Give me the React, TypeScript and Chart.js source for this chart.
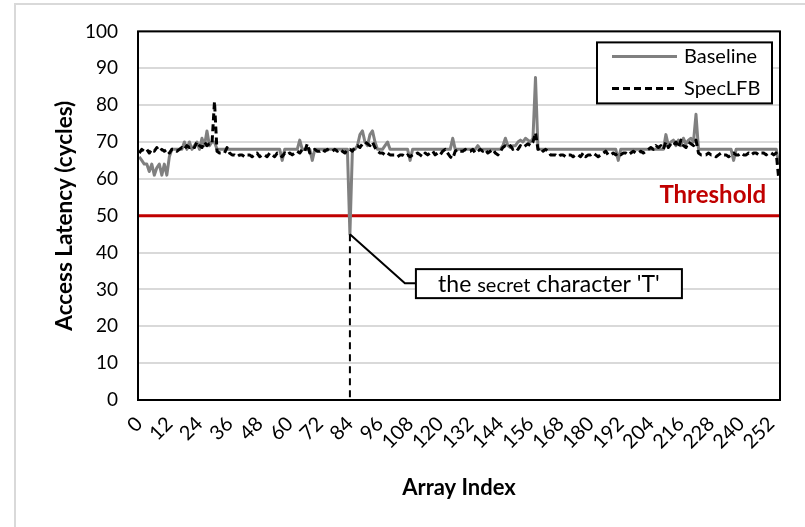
import { useEffect, useRef } from "react";
import { Chart, registerables } from "chart.js";

Chart.register(...registerables);

const categories: string[] = Array.from({ length: 256 }, (_, i) => String(i));
const tickStep = 12;

const baseline: number[] = [
  66, 65, 64, 64, 62, 64, 61, 63, 64, 61, 64, 61, 66, 68, 68, 68,
  68, 68, 70, 68, 70, 68, 69, 70, 68, 71, 69, 73, 69, 70, 70, 68,
  68, 68, 68, 68, 68, 68, 68, 68, 68, 68, 68, 68, 68, 68, 68, 68,
  68, 68, 68, 68, 68, 68, 68, 68, 68, 65, 68, 68, 68, 68, 68, 68,
  70.5, 68, 68, 68, 68, 65, 68, 68, 68, 68, 68, 68, 68, 68, 68, 68,
  68, 68, 68, 68, 45, 68, 68, 69, 72, 73, 70, 69, 72, 73, 70, 68,
  68, 68, 69, 70, 68, 68, 68, 68, 68, 68, 68, 68, 65, 68, 68, 68,
  68, 68, 68, 68, 68, 68, 68, 68, 68, 68, 68, 68, 68, 71, 68, 68,
  68, 68, 68, 68, 68, 68, 68, 69, 68, 68, 68, 68, 68, 68, 68, 68,
  68, 69, 71, 69, 68.5, 69, 69, 70, 70.5, 70, 71, 70.5, 70, 71, 87.5, 68,
  68, 68, 68, 68, 68, 68, 68, 68, 68, 68, 68, 68, 68, 68, 68, 68,
  68, 68, 68, 68, 68, 68, 68, 68, 68, 68, 68, 68, 68, 68, 68, 65,
  68, 68, 68, 68, 68, 68, 68, 68, 68, 68, 68, 68, 68, 68, 68, 68,
  68, 68, 72, 69, 70, 70.5, 69, 70.5, 69, 71, 69.5, 70.5, 71, 70, 77.5, 68,
  68, 68, 68, 68, 68, 68, 68, 68, 68, 68, 68, 68, 68, 65, 68, 68,
  68, 68, 68, 68, 68, 68, 68, 68, 68, 68, 68, 68, 68, 68, 68, 64,
];

const specLFB: number[] = [
  67, 68, 67.5, 68, 67, 68, 67.5, 68.5, 67.5, 68, 67.5, 68, 67, 68, 68, 67.5,
  68, 68.5, 68, 69, 68.5, 69, 68.5, 70, 69, 68.5, 70, 69, 69.5, 69.5, 81, 67.5,
  67, 67, 67, 68.5, 67, 66.5, 66.5, 66, 66.5, 66.5, 66, 66.5, 66.5, 66, 66.5, 67,
  66, 66.5, 66.5, 66, 67, 66.5, 66, 67, 66.5, 66, 67, 66.5, 67, 66.5, 67, 67.5,
  67, 68, 67.5, 69.5, 67, 67.5, 68, 67.5, 67.5, 68, 67.5, 68, 67.5, 67.5, 68, 67.5,
  68, 67.5, 67, 68, 68, 67.5, 68.5, 69, 68.5, 69.5, 70, 69.5, 69, 70, 68.5, 67.5,
  67, 67, 66.5, 67, 66.5, 66.5, 66.5, 66, 66.5, 66.5, 66, 66.5, 66, 66.5, 66.5, 67,
  66.5, 66, 67, 66.5, 67, 67.5, 66.5, 67, 66.5, 67.5, 68, 67, 66, 65.5, 67.5, 68,
  67.5, 67.5, 68, 67.5, 67.5, 68, 67, 67.5, 68, 67.5, 68, 67, 67.5, 68, 67, 66.5,
  67.5, 68.5, 69, 68.5, 69, 68, 68.5, 68, 69, 68.5, 69, 69.5, 69, 70, 72.5, 68,
  68.5, 67.5, 68, 67.5, 66.5, 66.5, 66.5, 66, 66.5, 66.5, 66, 66.5, 66.5, 66, 66.5, 66.5,
  66, 67, 66, 66.5, 66.5, 67, 66.5, 66, 66.5, 67, 67.5, 66.5, 66.5, 67, 66.5, 67,
  66.5, 67, 67, 66.5, 67, 67.5, 67, 67, 67.5, 67, 67.5, 68, 68.5, 68, 69, 68.5,
  69, 68, 70, 68.5, 69.5, 69, 70, 68.5, 70.5, 69, 68.5, 70, 69.5, 69, 70.5, 67,
  66.5, 66.5, 66.5, 67, 66.5, 66.5, 66, 66.5, 67, 66.5, 66.5, 66, 66.5, 67, 66.5, 66.5,
  67, 66.5, 66.5, 67, 66.5, 67, 67, 66.5, 67, 67, 66.5, 67, 67, 66.5, 67, 60,
];

const seriesNames = ["Baseline", "SpecLFB"];
const threshold = 50;
const thresholdLabel = "Threshold";
const secretIndex = 84;
const calloutParts = ["the ", "secret", " character 'T'"];
const yTitle = "Access Latency (cycles)";
const xTitle = "Array Index";
const yMin = 0;
const yMax = 100;
const yStep = 10;

const FONT = 'Lato, "Open Sans", sans-serif';
const GRAY = "#808080";
const RED = "#c00000";

const decor = {
  id: "decor",
  beforeDraw(chart: any) {
    const ctx = chart.ctx;
    ctx.save();
    ctx.fillStyle = "#ffffff";
    ctx.fillRect(0, 0, chart.width, chart.height);
    ctx.strokeStyle = "#d9d9d9";
    ctx.lineWidth = 2;
    ctx.beginPath();
    ctx.moveTo(15, chart.height);
    ctx.lineTo(15, 4);
    ctx.lineTo(chart.width, 4);
    ctx.stroke();
    ctx.restore();
  },
  beforeDatasetsDraw(chart: any) {
    const { ctx, chartArea: a, scales } = chart;
    const ty = scales.y.getPixelForValue(threshold);
    ctx.save();
    ctx.strokeStyle = RED;
    ctx.lineWidth = 3;
    ctx.beginPath();
    ctx.moveTo(a.left, ty);
    ctx.lineTo(a.right, ty);
    ctx.stroke();
    ctx.restore();
  },
  afterDatasetsDraw(chart: any) {
    const { ctx, chartArea: a, scales } = chart;
    const pt = chart.getDatasetMeta(0).data[secretIndex];
    const px = pt.x;
    const py = pt.y;
    ctx.save();
    // drop line
    ctx.strokeStyle = "#000";
    ctx.lineWidth = 2;
    ctx.setLineDash([7, 5]);
    ctx.beginPath();
    ctx.moveTo(px, py);
    ctx.lineTo(px, a.bottom);
    ctx.stroke();
    ctx.setLineDash([]);

    // plot frame
    ctx.lineWidth = 2;
    ctx.strokeStyle = "#000";
    ctx.strokeRect(a.left, a.top, a.right - a.left, a.bottom - a.top);

    // threshold label
    const ty = scales.y.getPixelForValue(threshold);
    ctx.fillStyle = RED;
    ctx.font = `bold 24px ${FONT}`;
    ctx.textAlign = "right";
    ctx.textBaseline = "middle";
    ctx.fillText(thresholdLabel, a.right - 14, ty - 20);

    // callout leader
    ctx.strokeStyle = "#000";
    ctx.lineWidth = 2;
    ctx.beginPath();
    ctx.moveTo(px, py);
    ctx.lineTo(px + 55, py + 49);
    ctx.lineTo(px + 66, py + 49);
    ctx.stroke();
    const bx = px + 66;
    const by = py + 35;
    const bw = 266;
    const bh = 29;
    ctx.fillStyle = "#fff";
    ctx.fillRect(bx, by, bw, bh);
    ctx.strokeRect(bx, by, bw, bh);
    const fonts = [`23px ${FONT}`, `20px ${FONT}`, `23px ${FONT}`];
    let total = 0;
    const widths = calloutParts.map((t, i) => {
      ctx.font = fonts[i];
      const w = ctx.measureText(t).width;
      total += w;
      return w;
    });
    let tx = bx + bw / 2 - total / 2;
    ctx.fillStyle = "#000";
    ctx.textAlign = "left";
    ctx.textBaseline = "alphabetic";
    calloutParts.forEach((t, i) => {
      ctx.font = fonts[i];
      ctx.fillText(t, tx, by + bh / 2 + 8);
      tx += widths[i];
    });

    // legend
    const lx = a.right - 183;
    const ly = a.top + 11;
    const lw = 175;
    const lh = 61;
    ctx.fillStyle = "#fff";
    ctx.fillRect(lx, ly, lw, lh);
    ctx.strokeStyle = "#000";
    ctx.lineWidth = 2;
    ctx.strokeRect(lx, ly, lw, lh);
    const rows = [ly + 14, ly + 46];
    const styles = [
      { color: GRAY, dash: [] as number[] },
      { color: "#000", dash: [7, 4] },
    ];
    rows.forEach((ry, i) => {
      ctx.strokeStyle = styles[i].color;
      ctx.lineWidth = 3;
      ctx.setLineDash(styles[i].dash);
      ctx.beginPath();
      ctx.moveTo(lx + 15, ry);
      ctx.lineTo(lx + 80, ry);
      ctx.stroke();
      ctx.setLineDash([]);
      ctx.fillStyle = "#000";
      ctx.font = `20px ${FONT}`;
      ctx.textAlign = "left";
      ctx.textBaseline = "middle";
      ctx.fillText(seriesNames[i], lx + 87, ry);
    });
    ctx.restore();
  },
};

export default function App() {
  const ref = useRef<HTMLCanvasElement>(null);
  useEffect(() => {
    const chart = new Chart(ref.current as HTMLCanvasElement, {
      type: "line",
      data: {
        labels: categories,
        datasets: [
          {
            label: seriesNames[0],
            data: baseline,
            borderColor: GRAY,
            backgroundColor: GRAY,
            borderWidth: 3,
            pointRadius: 0,
            borderJoinStyle: "round",
            tension: 0,
            order: 2,
          },
          {
            label: seriesNames[1],
            data: specLFB,
            borderColor: "#000",
            backgroundColor: "#000",
            borderWidth: 3,
            borderDash: [7, 4],
            pointRadius: 0,
            borderJoinStyle: "round",
            tension: 0,
            order: 1,
          },
        ],
      },
      options: {
        responsive: false,
        animation: false,
        devicePixelRatio: 1,
        layout: { padding: { left: 0, right: 25, top: 31, bottom: 0 } },
        plugins: { legend: { display: false }, tooltip: { enabled: false } },
        scales: {
          x: {
            type: "category",
            offset: true,
            grid: { display: false, drawTicks: false },
            border: { display: false },
            ticks: {
              autoSkip: false,
              maxRotation: 45,
              minRotation: 45,
              padding: 12,
              color: "#000",
              font: { family: FONT, size: 20 },
              callback: (_v: any, i: number) => (i % tickStep === 0 ? categories[i] : null),
            },
            title: {
              display: true,
              text: xTitle,
              color: "#000",
              font: { family: FONT, size: 22, weight: "bold" },
              padding: { top: 0, bottom: 26 },
            },
            afterFit: (s: any) => {
              s.height = 127;
            },
          },
          y: {
            min: yMin,
            max: yMax,
            grid: { color: "#d9d9d9", lineWidth: 2, drawTicks: false },
            border: { display: false },
            ticks: {
              stepSize: yStep,
              padding: 20,
              color: "#000",
              font: { family: FONT, size: 19 },
            },
            title: {
              display: true,
              text: yTitle,
              color: "#000",
              font: { family: FONT, size: 22.5, weight: "bold" },
              padding: { top: 51, bottom: 0 },
            },
            afterFit: (s: any) => {
              s.width = 138;
            },
          },
        },
      },
      plugins: [decor],
    } as any);
    return () => chart.destroy();
  }, []);
  return (
    <div style={{ position: "fixed", left: 0, top: 0, width: 805, height: 527, background: "#fff" }}>
      <canvas ref={ref} width={805} height={527} style={{ display: "block", width: 805, height: 527 }} />
    </div>
  );
}
